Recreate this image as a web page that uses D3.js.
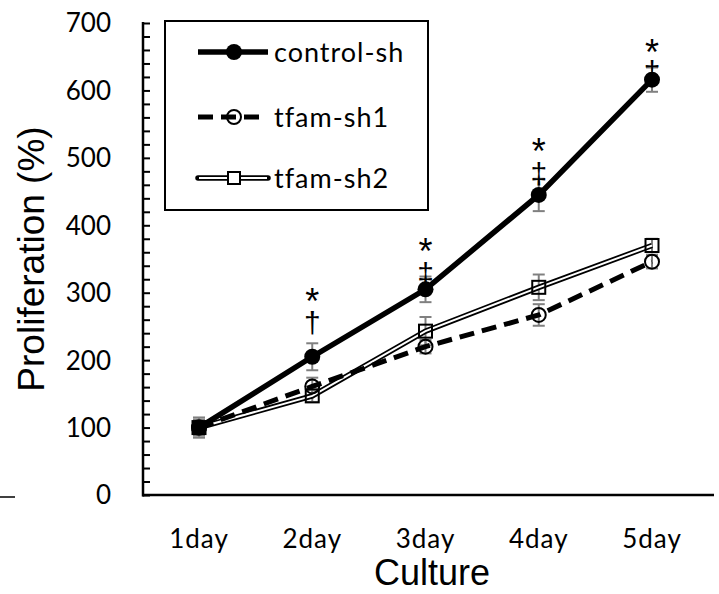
<!DOCTYPE html>
<html><head><meta charset="utf-8">
<script src="https://cdn.jsdelivr.net/npm/d3@7/dist/d3.min.js"></script>
<style>body{margin:0;background:#fff}</style>
</head><body>
<svg id="c" width="719" height="594"></svg>
<script>
const categories = ["1day","2day","3day","4day","5day"];
const controlSh = [100, 205, 305, 445, 616];
const controlErr = [15, 20, 19, 24, 18];
const tfamSh1 = [100, 161, 220, 267, 346];
const tfamSh1Err = [12, 13, 10, 16, 10];
const tfamSh2 = [100, 147, 243, 308, 370];
const tfamSh2Err = [10, 9, 21, 19, 10];
const starMarks = ["", "*", "*", "*", "*"];
const starLevel = [0, 300, 374, 522, 669];
const daggerMarks = ["", "\u2020", "\u2021", "\u2021", "\u2021"];
const daggerLevel = [0, 255, 328, 476, 628];
const yTicks = [0,100,200,300,400,500,600,700];

const svg = d3.select("#c");
const x = d3.scalePoint().domain(categories).range([199, 652]);
const y = d3.scaleLinear().domain([0,700]).range([495, 23]);
const labelFont = "Lato, 'Open Sans', sans-serif";
const arial = "'Liberation Sans', Arial, sans-serif";

// axes
const yAxis = d3.axisLeft(y).tickValues(d3.range(0,701,20)).tickSize(-7).tickFormat("");
const gy = svg.append("g").attr("transform","translate(143,0)").call(yAxis);
gy.select(".domain").remove();
gy.selectAll(".tick line").attr("stroke","#000").attr("stroke-width",2);
svg.append("line").attr("x1",143).attr("x2",143).attr("y1",y(700)-1).attr("y2",y(0)+1.5).attr("stroke","#000").attr("stroke-width",2.5);
svg.append("line").attr("x1",142).attr("x2",714).attr("y1",y(0)).attr("y2",y(0)).attr("stroke","#000").attr("stroke-width",2.5);

svg.append("g").selectAll("text").data(yTicks).join("text")
  .attr("x",111).attr("y",d=>y(d)).attr("dy","0.36em").attr("text-anchor","end")
  .attr("font-family",labelFont).attr("font-size",26).text(d=>d);
svg.append("g").selectAll("text").data(categories).join("text")
  .attr("x",d=>x(d)).attr("y",548).attr("text-anchor","middle").attr("letter-spacing",1)
  .attr("font-family",labelFont).attr("font-size",26).text(d=>d);
svg.append("text").attr("x",432).attr("y",585).attr("text-anchor","middle")
  .attr("font-family",arial).attr("font-size",36).text("Culture");
svg.append("text").attr("transform","translate(44,259) rotate(-90)").attr("text-anchor","middle")
  .attr("font-family",arial).attr("font-size",37).text("Proliferation (%)");
svg.append("line").attr("x1",0).attr("x2",15).attr("y1",497).attr("y2",497).attr("stroke","#000").attr("stroke-width",1.5);

const series = [
  {name:"control-sh", v:controlSh, e:controlErr},
  {name:"tfam-sh1", v:tfamSh1, e:tfamSh1Err},
  {name:"tfam-sh2", v:tfamSh2, e:tfamSh2Err}
];

// error bars
const eg = svg.append("g").attr("stroke","#808080").attr("stroke-width",2);
series.forEach(s=>{
  categories.forEach((c,i)=>{
    const cx = x(c), t = y(s.v[i]+s.e[i]), b = y(s.v[i]-s.e[i]);
    eg.append("line").attr("x1",cx).attr("x2",cx).attr("y1",t).attr("y2",b);
    eg.append("line").attr("x1",cx-6).attr("x2",cx+6).attr("y1",t).attr("y2",t);
    eg.append("line").attr("x1",cx-6).attr("x2",cx+6).attr("y1",b).attr("y2",b);
  });
});

const line = d3.line().x((d,i)=>x(categories[i])).y(d=>y(d));
svg.append("path").attr("d",line(tfamSh2)).attr("fill","none").attr("stroke","#000").attr("stroke-width",5.5);
svg.append("path").attr("d",line(tfamSh2)).attr("fill","none").attr("stroke","#fff").attr("stroke-width",2);
svg.append("path").attr("d",line(tfamSh1)).attr("fill","none").attr("stroke","#000").attr("stroke-width",5).attr("stroke-dasharray","15,8");
svg.append("path").attr("d",line(controlSh)).attr("fill","none").attr("stroke","#000").attr("stroke-width",5.5);

svg.append("g").selectAll("rect").data(tfamSh2).join("rect")
  .attr("x",(d,i)=>x(categories[i])-6.5).attr("y",d=>y(d)-6.5).attr("width",13).attr("height",13)
  .attr("fill","none").attr("stroke","#000").attr("stroke-width",2);
svg.append("g").selectAll("circle").data(tfamSh1).join("circle")
  .attr("cx",(d,i)=>x(categories[i])).attr("cy",d=>y(d)).attr("r",7)
  .attr("fill","none").attr("stroke","#000").attr("stroke-width",2);
svg.append("g").selectAll("circle").data(controlSh).join("circle")
  .attr("cx",(d,i)=>x(categories[i])).attr("cy",d=>y(d)).attr("r",8).attr("fill","#000");

// annotations
const sg = svg.append("g").attr("font-family",arial).attr("text-anchor","middle");
categories.forEach((c,i)=>{
  if(starMarks[i]) sg.append("text").attr("x",x(c)).attr("y",y(starLevel[i])+21).attr("font-size",36).text(starMarks[i]);
  if(daggerMarks[i]) sg.append("text").attr("x",x(c)).attr("y",y(daggerLevel[i])+10).attr("font-size",30).text(daggerMarks[i]);
});

// legend
const lg = svg.append("g");
lg.append("rect").attr("x",165).attr("y",21).attr("width",263).attr("height",189).attr("fill","#fff").attr("stroke","#000").attr("stroke-width",2);
const rows = [52, 117, 178];
lg.append("line").attr("x1",198).attr("x2",268).attr("y1",rows[0]).attr("y2",rows[0]).attr("stroke","#000").attr("stroke-width",5.5);
lg.append("circle").attr("cx",234).attr("cy",rows[0]).attr("r",8).attr("fill","#000");
lg.append("line").attr("x1",198).attr("x2",264).attr("y1",rows[1]).attr("y2",rows[1]).attr("stroke","#000").attr("stroke-width",5).attr("stroke-dasharray","15,8");
lg.append("circle").attr("cx",234).attr("cy",rows[1]).attr("r",7).attr("fill","none").attr("stroke","#000").attr("stroke-width",2);
lg.append("line").attr("x1",198).attr("x2",268).attr("y1",rows[2]).attr("y2",rows[2]).attr("stroke","#000").attr("stroke-width",5.5).attr("stroke-linecap","round");
lg.append("line").attr("x1",199).attr("x2",267).attr("y1",rows[2]).attr("y2",rows[2]).attr("stroke","#fff").attr("stroke-width",2);
lg.append("rect").attr("x",228).attr("y",rows[2]-6).attr("width",12).attr("height",12).attr("fill","#fff").attr("stroke","#000").attr("stroke-width",2);
lg.selectAll("text.l").data(series).join("text").attr("class","l")
  .attr("x",274).attr("y",(d,i)=>rows[i]).attr("dy","0.36em").attr("letter-spacing",1)
  .attr("font-family",labelFont).attr("font-size",27).text(d=>d.name);
</script>
</body></html>
